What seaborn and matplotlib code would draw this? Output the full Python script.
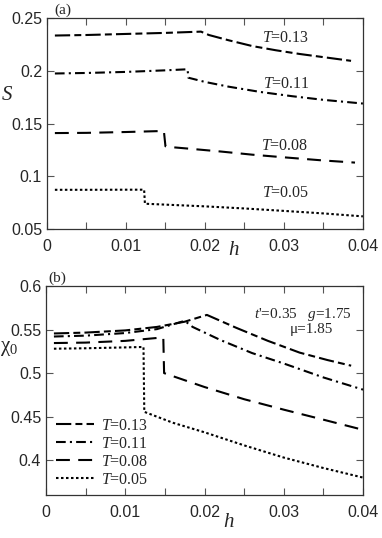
import numpy as np
import pandas as pd
import seaborn as sns
import matplotlib.pyplot as plt
from matplotlib.ticker import MultipleLocator, FixedFormatter, FixedLocator

# --- data ---
temps = ['0.13', '0.11', '0.08', '0.05']

# (a) order parameter S vs field h
h_s_013 = [0.001, 0.005, 0.010, 0.015, 0.0195, 0.0205, 0.023, 0.026, 0.029, 0.032, 0.035, 0.0385]
s_013 = [0.2335, 0.2340, 0.2350, 0.2360, 0.2372, 0.2340, 0.2290, 0.2235, 0.2195, 0.2160, 0.2130, 0.2095]

h_s_011 = [0.001, 0.005, 0.010, 0.015, 0.0178, 0.0179, 0.020, 0.023, 0.027, 0.031, 0.035, 0.040]
s_011 = [0.1975, 0.1980, 0.1990, 0.2005, 0.2015, 0.1935, 0.1895, 0.1850, 0.1800, 0.1760, 0.1725, 0.1690]

h_s_008 = [0.001, 0.005, 0.010, 0.0148, 0.0150, 0.0152, 0.018, 0.022, 0.026, 0.030, 0.035, 0.039]
s_008 = [0.1410, 0.1412, 0.1420, 0.1430, 0.1285, 0.1280, 0.1262, 0.1235, 0.1205, 0.1180, 0.1150, 0.1130]

h_s_005 = [0.001, 0.005, 0.010, 0.0123, 0.0124, 0.016, 0.020, 0.025, 0.030, 0.035, 0.040]
s_005 = [0.0872, 0.0872, 0.0873, 0.0873, 0.0740, 0.0728, 0.0715, 0.0695, 0.0672, 0.0648, 0.0620]

# (b) uniform susceptibility chi_0 vs field h
h_c_013 = [0.001, 0.005, 0.010, 0.014, 0.0175, 0.0203, 0.024, 0.028, 0.032, 0.0355, 0.0385]
c_013 = [0.5455, 0.5465, 0.5490, 0.5530, 0.5590, 0.5668, 0.5520, 0.5370, 0.5235, 0.5150, 0.5085]

h_c_011 = [0.001, 0.005, 0.010, 0.014, 0.0175, 0.0185, 0.022, 0.026, 0.030, 0.035, 0.040]
c_011 = [0.5420, 0.5430, 0.5460, 0.5505, 0.5600, 0.5530, 0.5380, 0.5230, 0.5110, 0.4950, 0.4810]

h_c_008 = [0.001, 0.005, 0.010, 0.0148, 0.0149, 0.0152, 0.020, 0.025, 0.030, 0.035, 0.0395]
c_008 = [0.5345, 0.5350, 0.5370, 0.5410, 0.5000, 0.4990, 0.4840, 0.4700, 0.4580, 0.4465, 0.4360]

h_c_005 = [0.001, 0.005, 0.010, 0.0123, 0.0124, 0.016, 0.020, 0.025, 0.030, 0.035, 0.040]
c_005 = [0.5280, 0.5285, 0.5295, 0.5300, 0.4555, 0.4430, 0.4320, 0.4170, 0.4030, 0.3910, 0.3800]

frames_s = []
for t, h, v in zip(temps, [h_s_013, h_s_011, h_s_008, h_s_005], [s_013, s_011, s_008, s_005]):
    frames_s.append(pd.DataFrame({'h': h, 'val': v, 'T': t}))
df_s = pd.concat(frames_s, ignore_index=True)

frames_c = []
for t, h, v in zip(temps, [h_c_013, h_c_011, h_c_008, h_c_005], [c_013, c_011, c_008, c_005]):
    frames_c.append(pd.DataFrame({'h': h, 'val': v, 'T': t}))
df_c = pd.concat(frames_c, ignore_index=True)

sns.set_style('ticks')
plt.rcParams['font.family'] = ['Liberation Sans', 'DejaVu Sans']
plt.rcParams['mathtext.fontset'] = 'custom'
plt.rcParams['mathtext.rm'] = 'Liberation Serif'
plt.rcParams['mathtext.it'] = 'Liberation Serif:italic'
plt.rcParams['lines.scale_dashes'] = False

dash_map = {
    '0.13': (11, 3, 5, 3),
    '0.11': (7, 3, 1.5, 3),
    '0.08': (10, 6),
    '0.05': (1.8, 1.8),
}

serif = 'Liberation Serif'

fig = plt.figure(figsize=(3.82, 5.38), dpi=100)
ax1 = fig.add_axes([0.123, 0.5743, 0.827, 0.392])
ax2 = fig.add_axes([0.1204, 0.0799, 0.830, 0.3885])

sns.lineplot(data=df_s, x='h', y='val', style='T', style_order=temps, dashes=dash_map,
             color='black', lw=1.5, estimator=None, sort=False, legend=False, ax=ax1)
sns.lineplot(data=df_c, x='h', y='val', style='T', style_order=temps, dashes=dash_map,
             color='black', lw=1.5, estimator=None, sort=False, legend=False, ax=ax2)

for ax, ylim, yticks in [(ax1, (0.05, 0.25), [0.05, 0.1, 0.15, 0.2, 0.25]),
                         (ax2, (0.36, 0.6), [0.4, 0.45, 0.5, 0.55, 0.6])]:
    ax.set_xlim(0, 0.04)
    ax.set_ylim(*ylim)
    ax.xaxis.set_major_locator(FixedLocator([0, 0.01, 0.02, 0.03, 0.04]))
    ax.xaxis.set_major_formatter(FixedFormatter(['0', '0.01', '0.02', '0.03', '0.04']))
    ax.xaxis.set_minor_locator(MultipleLocator(0.005))
    ax.set_yticks(yticks)
    ax.set_yticklabels([('%g' % v) for v in yticks])
    ax.tick_params(which='both', direction='in', top=True, right=True, length=5,
                   width=0.8, color='#555555', labelsize=11.5)
    ax.tick_params(axis='x', pad=7)
    ax.tick_params(axis='y', pad=3.5)
    for sp in ax.spines.values():
        sp.set_linewidth(0.9)
        sp.set_color('#333333')
    ax.set_xlabel('$h$', fontsize=15)

ax1.xaxis.set_label_coords(0.59, -0.05)
ax2.xaxis.set_label_coords(0.575, -0.08)

ax1.set_ylabel('$S$', fontsize=15, rotation=0, ha='center', va='center')
ax1.yaxis.set_label_coords(-0.125, 0.64)
ax2.set_ylabel(r'$\mathrm{\chi}_0$', fontsize=15, rotation=0, ha='center', va='center')
ax2.yaxis.set_label_coords(-0.115, 0.70)

ax1.text(0.0009, 0.2515, '(a)', fontsize=11, family=serif, va='bottom')
ax2.text(0.0003, 0.601, '(b)', fontsize=11, family=serif, va='bottom')

label_pos = [(0.0272, 0.231, '0.13'), (0.0274, 0.188, '0.11'),
             (0.0271, 0.129, '0.08'), (0.0272, 0.0839, '0.05')]
for x, y, t in label_pos:
    ax1.text(x, y, '$T$=' + t, fontsize=11.5, family=serif, va='center')

ax2.text(0.0262, 0.5675, "$t$'=0.35   $g$=1.75", fontsize=11, family=serif, va='center')
ax2.text(0.0308, 0.5495, '\u03bc=1.85', fontsize=11, family=serif, va='center')

handles = ax2.get_lines()[:4]
leg = ax2.legend(handles, ['$T$=' + t for t in temps], loc='lower left',
                 bbox_to_anchor=(0.03, 0.035), frameon=False, handlelength=2.4,
                 handletextpad=0.45, labelspacing=0.12, borderpad=0, borderaxespad=0,
                 prop={'family': serif, 'size': 11.5})

fig.savefig('out.png', dpi=100)
